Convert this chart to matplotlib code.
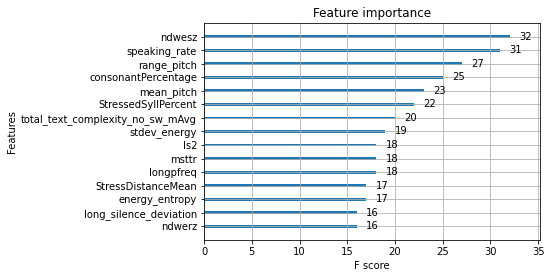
import numpy as np
import matplotlib.pyplot as plt

features = ['ndwerz', 'long_silence_deviation', 'energy_entropy', 'StressDistanceMean',
            'longpfreq', 'msttr', 'ls2', 'stdev_energy', 'total_text_complexity_no_sw_mAvg',
            'StressedSyllPercent', 'mean_pitch', 'consonantPercentage', 'range_pitch',
            'speaking_rate', 'ndwesz']
scores = [16, 16, 17, 17, 18, 18, 18, 19, 20, 22, 23, 25, 27, 31, 32]

fig = plt.figure(figsize=(550/72, 278/72), dpi=72)
ax = fig.add_axes([0.371, 0.137, 0.611, 0.78])

ylocs = np.arange(len(scores))
ax.barh(ylocs, scores, align='center', height=0.2)
for x, y in zip(scores, ylocs):
    ax.text(x + 1, y, x, va='center')

ax.set_yticks(ylocs)
ax.set_yticklabels(features)
ax.set_xlim(0, max(scores) * 1.1)
ax.set_ylim(-1, len(scores))
ax.grid(True)
ax.set_title('Feature importance')
ax.set_xlabel('F score')
ax.set_ylabel('Features')

fig.savefig('out.png', dpi=72)
